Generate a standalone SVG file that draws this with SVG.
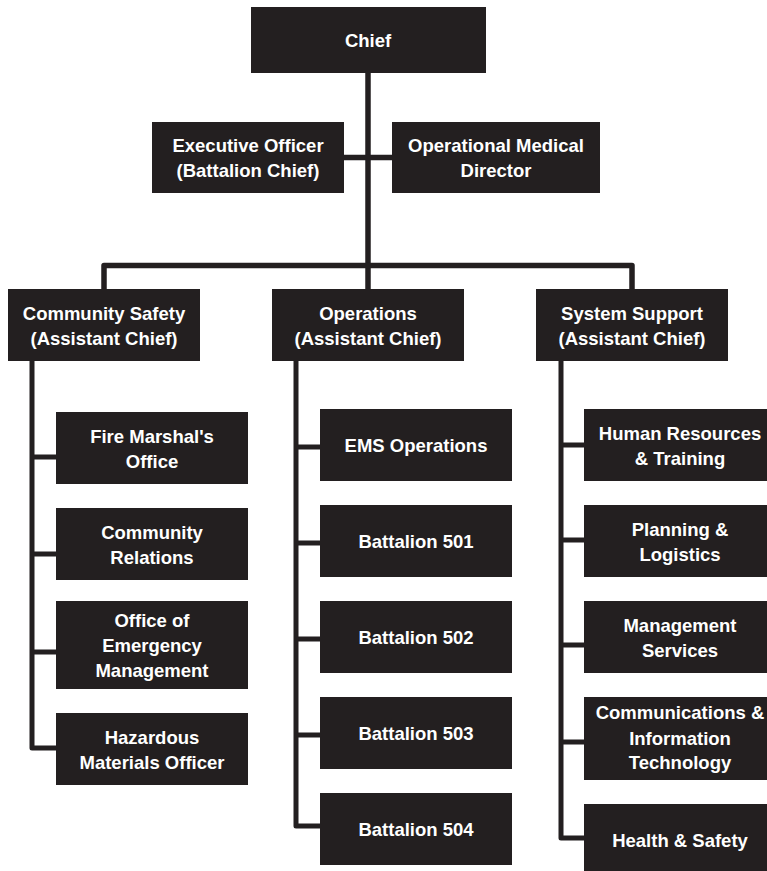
<svg xmlns="http://www.w3.org/2000/svg" width="767" height="871" viewBox="0 0 767 871">
<style>
.box{fill:#231f20}
.t{fill:#ffffff;font-family:"Liberation Sans",Arial,sans-serif;font-weight:bold;font-size:18.5px;text-anchor:middle}
.ln{fill:none;stroke:#231f20;stroke-width:5.5;stroke-linejoin:round}
.br{fill:none;stroke:#231f20;stroke-width:5;stroke-linejoin:round}
</style>
<rect width="767" height="871" fill="#ffffff"/>
<g id="connectors">
<path class="ln" d="M368 73 V289"/>
<path class="ln" d="M104 289 V265.5 H632 V289"/>
<path class="ln" d="M344 157.5 H392"/>
<path class="br" d="M32 361 V748 H56 M32 457 H56 M32 554 H56 M32 652 H56"/>
<path class="br" d="M296 361 V826 H320 M296 447 H320 M296 543 H320 M296 639 H320 M296 735 H320"/>
<path class="br" d="M561 361 V838 H584 M561 445 H584 M561 540 H584 M561 645 H584 M561 742 H584"/>
</g>
<g id="chief"><rect class="box" x="251" y="7" width="235" height="66"/><text class="t" x="368" y="46.5">Chief</text></g>
<g id="exec"><rect class="box" x="152" y="122" width="192" height="71"/><text class="t" x="248" y="152">Executive Officer</text><text class="t" x="248" y="177">(Battalion Chief)</text></g>
<g id="omd"><rect class="box" x="392" y="122" width="208" height="71"/><text class="t" x="496" y="152">Operational Medical</text><text class="t" x="496" y="177">Director</text></g>
<g id="community-safety"><rect class="box" x="8" y="289" width="192" height="72"/><text class="t" x="104" y="320">Community Safety</text><text class="t" x="104" y="345">(Assistant Chief)</text></g>
<g id="operations"><rect class="box" x="272" y="289" width="192" height="72"/><text class="t" x="368" y="320">Operations</text><text class="t" x="368" y="345">(Assistant Chief)</text></g>
<g id="system-support"><rect class="box" x="536" y="289" width="192" height="72"/><text class="t" x="632" y="320">System Support</text><text class="t" x="632" y="345">(Assistant Chief)</text></g>
<g id="fire-marshal"><rect class="box" x="56" y="412" width="192" height="72"/><text class="t" x="152" y="443">Fire Marshal's</text><text class="t" x="152" y="468">Office</text></g>
<g id="community-relations"><rect class="box" x="56" y="508" width="192" height="72"/><text class="t" x="152" y="539">Community</text><text class="t" x="152" y="564">Relations</text></g>
<g id="oem"><rect class="box" x="56" y="601" width="192" height="88"/><text class="t" x="152" y="627">Office of</text><text class="t" x="152" y="652">Emergency</text><text class="t" x="152" y="677">Management</text></g>
<g id="hazmat"><rect class="box" x="56" y="713" width="192" height="72"/><text class="t" x="152" y="744">Hazardous</text><text class="t" x="152" y="769">Materials Officer</text></g>
<g id="ems"><rect class="box" x="320" y="409" width="192" height="72"/><text class="t" x="416" y="452">EMS Operations</text></g>
<g id="b501"><rect class="box" x="320" y="505" width="192" height="72"/><text class="t" x="416" y="548">Battalion 501</text></g>
<g id="b502"><rect class="box" x="320" y="601" width="192" height="72"/><text class="t" x="416" y="644">Battalion 502</text></g>
<g id="b503"><rect class="box" x="320" y="697" width="192" height="72"/><text class="t" x="416" y="740">Battalion 503</text></g>
<g id="b504"><rect class="box" x="320" y="793" width="192" height="72"/><text class="t" x="416" y="836">Battalion 504</text></g>
<g id="hr"><rect class="box" x="584" y="409" width="192" height="72"/><text class="t" x="680" y="440">Human Resources</text><text class="t" x="680" y="465">&amp; Training</text></g>
<g id="planning"><rect class="box" x="584" y="505" width="192" height="72"/><text class="t" x="680" y="536">Planning &amp;</text><text class="t" x="680" y="561">Logistics</text></g>
<g id="management"><rect class="box" x="584" y="601" width="192" height="72"/><text class="t" x="680" y="632">Management</text><text class="t" x="680" y="657">Services</text></g>
<g id="comms"><rect class="box" x="584" y="697" width="192" height="83"/><text class="t" x="680" y="719">Communications &amp;</text><text class="t" x="680" y="745">Information</text><text class="t" x="680" y="769">Technology</text></g>
<g id="health"><rect class="box" x="584" y="804" width="192" height="72"/><text class="t" x="680" y="847">Health &amp; Safety</text></g>
</svg>
